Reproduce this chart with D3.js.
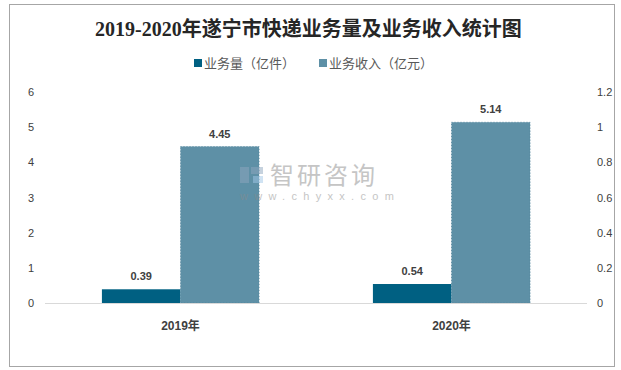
<!DOCTYPE html>
<html>
<head>
<meta charset="utf-8">
<script src="https://cdn.jsdelivr.net/npm/d3@7"></script>
<style>
  body { margin: 0; background: #fff; }
  svg text { font-family: "Liberation Sans", "Noto Sans CJK SC", sans-serif; }
</style>
</head>
<body>
<div id="chart"></div>
<script>
// chart data
const categories = ['2019年', '2020年'];
const seriesNames = ['业务量（亿件）', '业务收入（亿元）'];
const volume = [0.39, 0.54];
const revenue = [4.45, 5.14];
const leftTicks = [0, 1, 2, 3, 4, 5, 6];
const rightTicks = [0, 0.2, 0.4, 0.6, 0.8, 1, 1.2];

const W = 621, H = 370;
const colors = ['#006082', '#5E90A6'];

const svg = d3.select('#chart').append('svg')
  .attr('width', W).attr('height', H);

// outer frame
svg.append('rect')
  .attr('x', 9.5).attr('y', 4.5)
  .attr('width', 605).attr('height', 362)
  .attr('fill', '#fff').attr('stroke', '#a6a6a6');

const plot = { left: 45, right: 587, top: 92, bottom: 303 };

const x0 = d3.scaleBand().domain(categories)
  .range([plot.left, plot.right]).paddingInner(0.42).paddingOuter(0.21);
const x1 = d3.scaleBand().domain([0, 1]).range([0, x0.bandwidth()]);
const y = d3.scaleLinear().domain([0, 6]).range([plot.bottom, plot.top]);
const yR = d3.scaleLinear().domain([0, 1.2]).range([plot.bottom, plot.top]);

// title
svg.append('text')
  .attr('x', 95).attr('y', 36)
  .style('font-family', '"Liberation Serif", "Noto Sans CJK SC", serif')
  .style('font-size', '20px').style('font-weight', '600')
  .attr('fill', '#262626')
  .text('2019-2020年遂宁市快递业务量及业务收入统计图');

// legend
const legend = svg.append('g');
const legendX = [194, 319];
seriesNames.forEach((name, i) => {
  legend.append('rect')
    .attr('x', legendX[i]).attr('y', 59)
    .attr('width', 8).attr('height', 8)
    .attr('fill', colors[i]);
  legend.append('text')
    .attr('x', legendX[i] + 10).attr('y', 68)
    .style('font-size', '13px').attr('fill', '#595959')
    .text(name);
});

// left axis labels
svg.append('g').selectAll('text')
  .data(leftTicks).join('text')
  .attr('x', 31).attr('y', d => y(d) + 4)
  .attr('text-anchor', 'middle')
  .style('font-size', '11px').attr('fill', '#404040')
  .text(d => d);

// right axis labels
svg.append('g').selectAll('text')
  .data(rightTicks).join('text')
  .attr('x', 597).attr('y', d => yR(d) + 4)
  .style('font-size', '11px').attr('fill', '#404040')
  .text(d => d);

// bars
const rows = categories.map((c, i) => ({ cat: c, vals: [volume[i], revenue[i]] }));
const groups = svg.append('g').selectAll('g')
  .data(rows).join('g')
  .attr('transform', d => `translate(${x0(d.cat)},0)`);

groups.selectAll('rect')
  .data(d => d.vals.map((v, k) => ({ v, k })))
  .join('rect')
  .attr('x', d => x1(d.k))
  .attr('y', d => y(d.v))
  .attr('width', x1.bandwidth())
  .attr('height', d => y(0) - y(d.v))
  .attr('fill', d => colors[d.k])
  .attr('stroke', d => d.k === 1 ? '#4f8299' : 'none')
  .attr('stroke-dasharray', '1,2')
  .attr('stroke-width', 0.8);

groups.selectAll('text')
  .data(d => d.vals.map((v, k) => ({ v, k })))
  .join('text')
  .attr('x', d => x1(d.k) + x1.bandwidth() / 2)
  .attr('y', d => y(d.v) - 9)
  .attr('text-anchor', 'middle')
  .style('font-size', '11px').style('font-weight', 'bold')
  .attr('fill', '#404040')
  .text(d => d.v.toFixed(2));

// baseline
svg.append('line')
  .attr('x1', plot.left).attr('x2', plot.right)
  .attr('y1', y(0) + 0.5).attr('y2', y(0) + 0.5)
  .attr('stroke', '#d9d9d9');

// category labels
svg.append('g').selectAll('text')
  .data(categories).join('text')
  .attr('x', d => x0(d) + x0.bandwidth() / 2)
  .attr('y', 330)
  .attr('text-anchor', 'middle')
  .style('font-size', '12px').style('font-weight', 'bold')
  .attr('fill', '#404040')
  .text(d => d);

// watermark, on top of the bars
const wm = svg.append('g').attr('opacity', 0.5);
wm.append('rect').attr('x', 240).attr('y', 167).attr('width', 9).attr('height', 16).attr('fill', '#8ea6bf');
wm.append('rect').attr('x', 251).attr('y', 167).attr('width', 12).attr('height', 7).attr('fill', '#8ea6bf');
wm.append('rect').attr('x', 253).attr('y', 176).attr('width', 10).attr('height', 7).attr('fill', '#a3c9e8');
wm.append('text')
  .attr('x', 270).attr('y', 184)
  .style('font-family', '"Noto Sans CJK SC", sans-serif')
  .style('font-size', '24px').attr('fill', '#8c8c8c')
  .attr('letter-spacing', '3')
  .text('智研咨询');
wm.append('text')
  .attr('x', 240).attr('y', 200)
  .style('font-size', '11px').attr('fill', '#8c8c8c')
  .attr('letter-spacing', '6.3')
  .text('www.chyxx.com');
</script>
</body>
</html>
